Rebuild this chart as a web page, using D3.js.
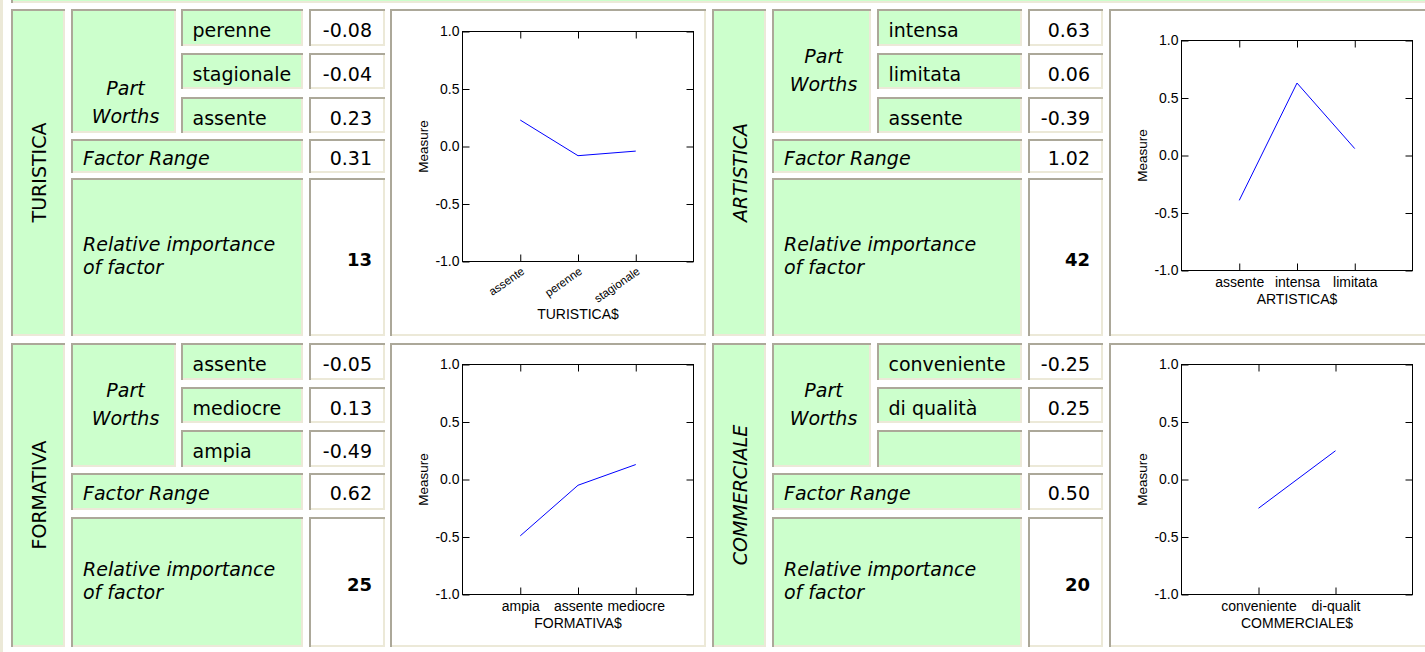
<!DOCTYPE html>
<html>
<head>
<meta charset="utf-8">
<script src="https://cdn.jsdelivr.net/npm/d3@7"></script>
<style>
  html, body { margin: 0; padding: 0; background: #ffffff; }
  svg { display: block; }
</style>
</head>
<body>
<svg id="page" width="1425" height="652"></svg>
<script>
// ---- Conjoint results: one block per factor ----
const factorNames = ["TURISTICA", "ARTISTICA", "FORMATIVA", "COMMERCIALE"];

// Part worths, in the order listed in each table
const turisticaLevels = ["perenne", "stagionale", "assente"];
const turisticaWorths = [-0.08, -0.04, 0.23];
const artisticaLevels = ["intensa", "limitata", "assente"];
const artisticaWorths = [0.63, 0.06, -0.39];
const formativaLevels = ["assente", "mediocre", "ampia"];
const formativaWorths = [-0.05, 0.13, -0.49];
const commercialeLevels = ["conveniente", "di qualità"];
const commercialeWorths = [-0.25, 0.25];

const factorRanges = [0.31, 1.02, 0.62, 0.50];
const relativeImportance = [13, 42, 25, 20];

// Category order and labels along each chart's x axis
const turisticaAxisLevels = ["assente", "perenne", "stagionale"];
const turisticaAxisLabels = ["assente", "perenne", "stagionale"];
const artisticaAxisLevels = ["assente", "intensa", "limitata"];
const artisticaAxisLabels = ["assente", "intensa", "limitata"];
const formativaAxisLevels = ["ampia", "assente", "mediocre"];
const formativaAxisLabels = ["ampia", "assente", "mediocre"];
const commercialeAxisLevels = ["conveniente", "di qualità"];
const commercialeAxisLabels = ["conveniente", "di-qualit"];

const measureTicks = [-1.0, -0.5, 0.0, 0.5, 1.0];
const measureDomain = [-1, 1];

// ---- Page styling ----
const GREEN = "#ccffcc";
const DARK = "#aca899";
const LIGHT = "#ece9d8";
const tableFont = "'DejaVu Sans', Verdana, sans-serif";
const chartFont = "'Liberation Sans', Arial, sans-serif";
const chartSize = 14;

const svg = d3.select("#page");

// Table cell with an inset border (dark top/left, light bottom/right)
function cell(x0, y0, x1, y1, fill) {
  x0 = Math.round(x0); y0 = Math.round(y0); x1 = Math.round(x1); y1 = Math.round(y1);
  const g = svg.append("g");
  g.append("rect").attr("x", x0).attr("y", y0).attr("width", x1 - x0).attr("height", y1 - y0).attr("fill", fill);
  g.append("rect").attr("x", x1 - 2).attr("y", y0 + 2).attr("width", 2).attr("height", y1 - y0 - 2).attr("fill", LIGHT);
  g.append("rect").attr("x", x0 + 2).attr("y", y1 - 2).attr("width", x1 - x0 - 2).attr("height", 2).attr("fill", LIGHT);
  g.append("rect").attr("x", x0).attr("y", y0).attr("width", x1 - x0).attr("height", 2).attr("fill", DARK);
  g.append("rect").attr("x", x0).attr("y", y0).attr("width", 2).attr("height", y1 - y0).attr("fill", DARK);
  return g;
}

function text(x, y, str, opts = {}) {
  return svg.append("text")
    .attr("x", x).attr("y", y)
    .attr("font-family", opts.family || tableFont)
    .attr("font-size", opts.size || 19)
    .attr("font-style", opts.italic ? "italic" : "normal")
    .attr("font-weight", opts.bold ? "bold" : "normal")
    .attr("text-anchor", opts.anchor || "start")
    .attr("fill", "#000")
    .text(str);
}

// Table frame: outer left edge and the bottom of the row above
svg.append("rect").attr("x", 0).attr("y", 0).attr("width", 3).attr("height", 652).attr("fill", LIGHT);
cell(11, -40, 1440, 3, GREEN);

// Column and row geometry of the two-by-two arrangement
const columns = [
  { label: [11, 65], pw: [71, 176], level: [181, 303], value: [309, 385], chart: [390, 706] },
  { label: [712, 766], pw: [772, 871], level: [877, 1022], value: [1028, 1103], chart: [1109, 1440] }
];
const rows = [
  { levels: [[9, 46], [53, 89], [97, 133]], range: [139, 173], rel: [178, 336], all: [9, 336] },
  { levels: [[343, 380], [387, 423], [430, 467]], range: [473, 510], rel: [517, 647], all: [343, 647] }
];

const blocks = [
  { levels: turisticaLevels, worths: turisticaWorths, axisLevels: turisticaAxisLevels, axisLabels: turisticaAxisLabels,
    col: 0, row: 0, italicName: false, pwShift: 32, plotTop: 31.5, rotated: true },
  { levels: artisticaLevels, worths: artisticaWorths, axisLevels: artisticaAxisLevels, axisLabels: artisticaAxisLabels,
    col: 1, row: 0, italicName: true, pwShift: 0, plotTop: 40.5, rotated: false },
  { levels: formativaLevels, worths: formativaWorths, axisLevels: formativaAxisLevels, axisLabels: formativaAxisLabels,
    col: 0, row: 1, italicName: false, pwShift: 0, plotTop: 364.5, rotated: false },
  { levels: commercialeLevels, worths: commercialeWorths, axisLevels: commercialeAxisLevels, axisLabels: commercialeAxisLabels,
    col: 1, row: 1, italicName: true, pwShift: 0, plotTop: 364.5, rotated: false }
];

const fmt = d => d.toFixed(2);

blocks.forEach((b, i) => {
  const c = columns[b.col], r = rows[b.row];

  // Factor name, written vertically
  cell(c.label[0], r.all[0], c.label[1], r.all[1], GREEN);
  const lx = (c.label[0] + c.label[1]) / 2 + 1, ly = (r.all[0] + r.all[1]) / 2;
  text(0, 0, factorNames[i], { anchor: "middle", italic: b.italicName })
    .attr("dominant-baseline", "central")
    .attr("transform", `translate(${lx},${ly}) rotate(-90)`);

  // "Part Worths" header spanning the three level rows
  const pwTop = r.levels[0][0], pwBot = r.levels[2][1];
  cell(c.pw[0], pwTop, c.pw[1], pwBot, GREEN);
  const pwMid = (pwTop + pwBot) / 2 + b.pwShift;
  const pwX = (c.pw[0] + c.pw[1]) / 2 + 2;
  text(pwX, pwMid - 8, "Part", { anchor: "middle", italic: true });
  text(pwX, pwMid + 20, "Worths", { anchor: "middle", italic: true });

  // Level rows with their part worths
  r.levels.forEach((ly2, k) => {
    cell(c.level[0], ly2[0], c.level[1], ly2[1], GREEN);
    cell(c.value[0], ly2[0], c.value[1], ly2[1], "#ffffff");
    const base = (ly2[0] + ly2[1]) / 2 + 9.5;
    if (k < b.levels.length) {
      text(c.level[0] + 11.5, base, b.levels[k]);
      text(c.value[1] - 13, base, fmt(b.worths[k]), { anchor: "end" });
    }
  });

  // Factor range
  cell(c.pw[0], r.range[0], c.level[1], r.range[1], GREEN);
  cell(c.value[0], r.range[0], c.value[1], r.range[1], "#ffffff");
  const rb = (r.range[0] + r.range[1]) / 2 + 8.5;
  text(c.pw[0] + 12, rb, "Factor Range", { italic: true });
  text(c.value[1] - 13, rb, fmt(factorRanges[i]), { anchor: "end" });

  // Relative importance
  cell(c.pw[0], r.rel[0], c.level[1], r.rel[1], GREEN);
  cell(c.value[0], r.rel[0], c.value[1], r.rel[1], "#ffffff");
  const rm = (r.rel[0] + r.rel[1]) / 2;
  text(c.pw[0] + 12, rm - 6, "Relative importance", { italic: true });
  text(c.pw[0] + 12, rm + 17, "of factor", { italic: true });
  text(c.value[1] - 13, rm + 9, relativeImportance[i], { anchor: "end", bold: true, size: 18 });

  // Chart cell with the part-worth profile
  cell(c.chart[0], r.all[0], c.chart[1], r.all[1], "#ffffff");
  drawChart(b, c.chart[0] + 72.5, b.plotTop, 231, 230, factorNames[i] + "$");
});

function drawChart(b, left, top, w, h, title) {
  const g = svg.append("g").attr("font-family", chartFont);
  const x = d3.scalePoint().domain(b.axisLabels).range([left, left + w]).padding(1);
  const y = d3.scaleLinear().domain(measureDomain).range([top + h, top]);

  const tickStyle = sel => {
    sel.select(".domain").remove();
    sel.selectAll(".tick line").attr("stroke", "#000").attr("stroke-width", 1);
    sel.selectAll(".tick text").attr("fill", "#000").attr("font-family", chartFont).attr("font-size", chartSize);
  };

  g.append("g").attr("transform", `translate(${left},0)`)
    .call(d3.axisLeft(y).tickValues(measureTicks).tickSize(-7).tickPadding(3).tickFormat(d => d.toFixed(1)))
    .call(tickStyle);
  g.append("g").attr("transform", `translate(${left + w},0)`)
    .call(d3.axisRight(y).tickValues(measureTicks).tickSize(-7).tickFormat(""))
    .call(tickStyle);
  g.append("g").attr("transform", `translate(0,${top})`)
    .call(d3.axisTop(x).tickSize(-7).tickFormat(""))
    .call(tickStyle);

  const bottom = g.append("g").attr("transform", `translate(0,${top + h})`)
    .call(d3.axisBottom(x).tickSize(-7).tickPadding(7))
    .call(tickStyle);
  if (b.rotated) {
    bottom.selectAll(".tick text")
      .attr("font-size", 11.5)
      .attr("text-anchor", "end")
      .attr("dy", null).attr("y", null)
      .attr("transform", "translate(4.5,11.5) rotate(-35)");
  }

  // Plot frame
  g.append("rect").attr("x", left).attr("y", top).attr("width", w).attr("height", h)
    .attr("fill", "none").attr("stroke", "#000").attr("stroke-width", 1);

  // Axis titles
  g.append("text").attr("transform", `translate(${left - 39},${top + h / 2}) rotate(-90)`)
    .attr("text-anchor", "middle").attr("dominant-baseline", "central")
    .attr("font-size", 13.5).attr("fill", "#000").text("Measure");
  g.append("text").attr("x", left + w / 2).attr("y", top + h + (b.rotated ? 52 : 28.5))
    .attr("text-anchor", "middle").attr("dominant-baseline", "central")
    .attr("font-size", chartSize).attr("fill", "#000").text(title);

  // Part-worth profile
  const pts = b.axisLevels.map((lv, k) => [x(b.axisLabels[k]), y(b.worths[b.levels.indexOf(lv)])]);
  g.append("path").attr("d", d3.line()(pts))
    .attr("fill", "none").attr("stroke", "#0000ff").attr("stroke-width", 1);
}
</script>
</body>
</html>
